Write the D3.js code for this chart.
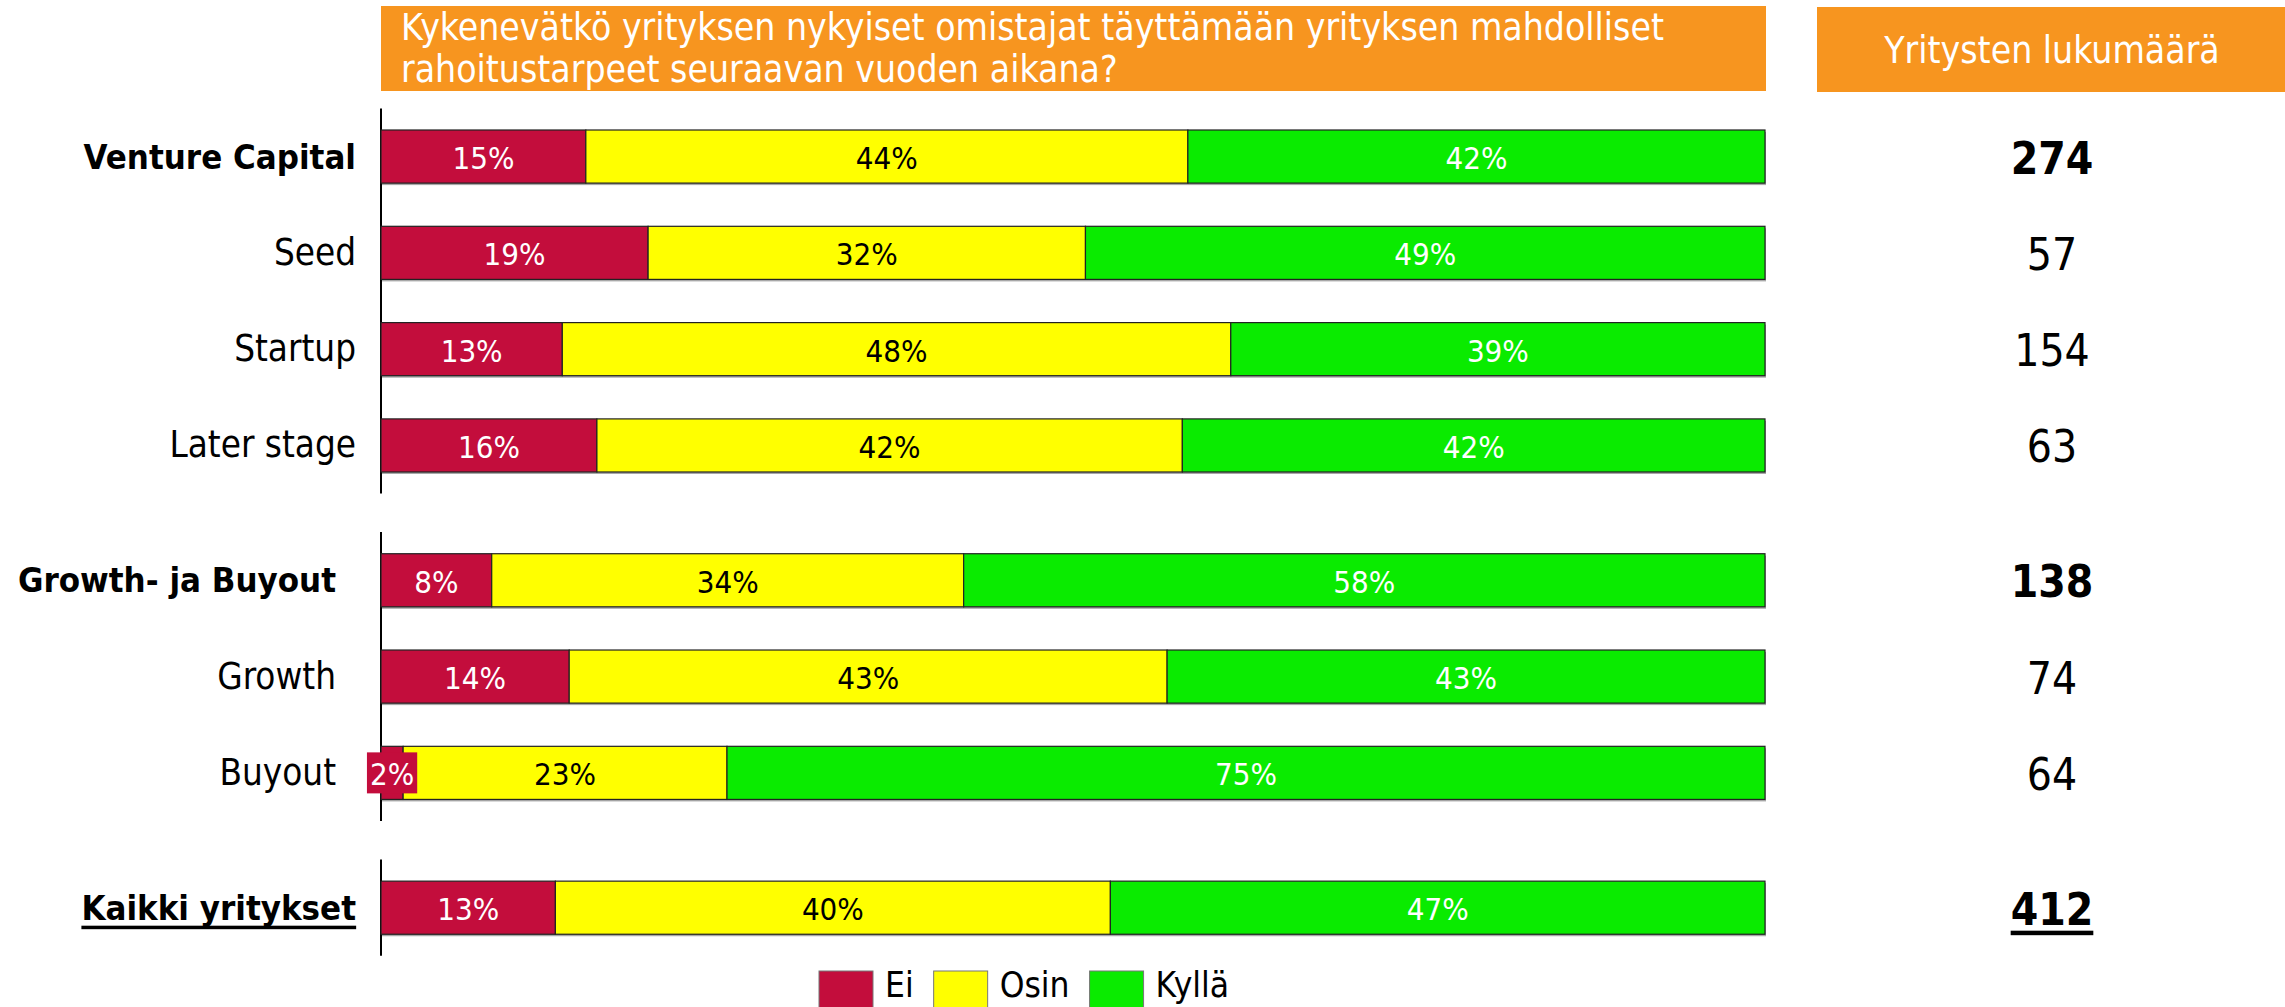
<!DOCTYPE html>
<html>
<head>
<meta charset="utf-8">
<script src="https://cdn.jsdelivr.net/npm/d3@7"></script>
<style>
  body { margin: 0; background: #fff; }
  svg { display: block; font-family: "DejaVu Sans Condensed", "DejaVu Sans", sans-serif; font-stretch: condensed; }
</style>
</head>
<body>
<svg width="2285" height="1007"></svg>
<script>
// --- data ---
const categories = ['Venture Capital', 'Seed', 'Startup', 'Later stage',
                    'Growth- ja Buyout', 'Growth', 'Buyout', 'Kaikki yritykset'];
const groupOf = [0, 0, 0, 0, 1, 1, 1, 2];
const isTotal = [true, false, false, false, true, false, false, true];
const ei    = [14.8, 19.3, 13.1, 15.6,  8.0, 13.6,  1.6, 12.6];
const osin  = [43.5, 31.6, 48.3, 42.3, 34.1, 43.2, 23.4, 40.1];
const kylla = [41.7, 49.1, 38.6, 42.1, 57.9, 43.2, 75.0, 47.3];
const counts = [274, 57, 154, 63, 138, 74, 64, 412];
const seriesNames = ['Ei', 'Osin', 'Kyllä'];
const seriesColors = ['#C30D3C', '#FFFF00', '#0AEB00'];
const labelColors = ['#fff', '#000', '#fff'];
const titleLines = ['Kykenevätkö yrityksen nykyiset omistajat täyttämään yrityksen mahdolliset',
                    'rahoitustarpeet seuraavan vuoden aikana?'];
const countHeader = 'Yritysten lukumäärä';

const svg = d3.select('svg');
const orange = '#F7951F';

// rows for the stack
const table = categories.map((c, i) => ({
  name: c, Ei: ei[i], Osin: osin[i], 'Kyllä': kylla[i],
  pos: i + groupOf[i] * 0.4, i: i
}));
const stacked = d3.stack().keys(seriesNames)(table);

const x = d3.scaleLinear().domain([0, 100]).range([381, 1765]);
const step = 96.3;
const y = d3.scaleLinear().domain([0, 1]).range([108.4, 108.4 + step]);
const barPad = 21.6;
const barH = step - 2 * barPad;
const fmt = v => Math.round(v) + '%';

// header boxes
svg.append('rect').attr('x', 381).attr('y', 6).attr('width', 1385).attr('height', 85).attr('fill', orange);
svg.append('rect').attr('x', 1817).attr('y', 7).attr('width', 468).attr('height', 85).attr('fill', orange);

svg.append('g').selectAll('text').data(titleLines).join('text')
  .attr('x', 401).attr('y', (d, i) => 40 + i * 42)
  .attr('fill', '#fff').attr('font-size', 37).text(d => d);

svg.append('text').attr('x', 2052).attr('y', 63).attr('text-anchor', 'middle')
  .attr('fill', '#fff').attr('font-size', 37).text(countHeader);

// axis line for each group
const groups = d3.groups(table, d => groupOf[d.i]);
svg.append('g').selectAll('line').data(groups).join('line')
  .attr('x1', x(0)).attr('x2', x(0))
  .attr('y1', d => y(d[1][0].pos))
  .attr('y2', d => y(d[1][d[1].length - 1].pos + 1))
  .attr('stroke', '#000').attr('stroke-width', 2);

// bar shadows
svg.append('g').selectAll('rect').data(table).join('rect')
  .attr('x', x(0) + 1).attr('y', d => y(d.pos) + barPad + 2)
  .attr('width', x(100) - x(0)).attr('height', barH)
  .attr('fill', '#a8a8a8');

// bar segments
const layer = svg.append('g').selectAll('g').data(stacked).join('g')
  .attr('fill', (d, k) => seriesColors[k]);

layer.selectAll('rect').data(d => d).join('rect')
  .attr('x', d => x(d[0]))
  .attr('y', d => y(d.data.pos) + barPad)
  .attr('width', d => x(d[1]) - x(d[0]))
  .attr('height', barH)
  .attr('stroke', '#222').attr('stroke-width', 1.2);

// segment labels
const lblSize = 31;
stacked.forEach((s, k) => {
  const g = svg.append('g');
  s.forEach(d => {
    const cx = (x(d[0]) + x(d[1])) / 2;
    const cy = y(d.data.pos) + barPad + barH / 2;
    const t = g.append('text').attr('x', cx).attr('y', cy + lblSize * 0.4)
      .attr('text-anchor', 'middle').attr('font-size', lblSize)
      .attr('fill', labelColors[k]).text(fmt(d[1] - d[0]));
    const w = t.node().getComputedTextLength();
    if (w + 4 > x(d[1]) - x(d[0])) {
      g.insert('rect', () => t.node())
        .attr('x', cx - w / 2 - 3).attr('y', cy - 20.5)
        .attr('width', w + 6).attr('height', 41)
        .attr('fill', seriesColors[k]);
    }
  });
});

// row labels
const labelRight = [356, 336, 356];
const rowLabels = svg.append('g').selectAll('text').data(table).join('text')
  .attr('x', d => labelRight[groupOf[d.i]])
  .attr('y', d => y(d.pos) + step / 2 + 12)
  .attr('text-anchor', 'end')
  .attr('font-size', d => isTotal[d.i] ? 34.5 : 36.5)
  .attr('font-weight', d => isTotal[d.i] ? 'bold' : 'normal')
  .text(d => d.name);

// counts
const countText = svg.append('g').selectAll('text').data(table).join('text')
  .attr('x', 2052)
  .attr('y', d => y(d.pos) + step / 2 + 17)
  .attr('text-anchor', 'middle').attr('font-size', 44)
  .attr('font-weight', d => isTotal[d.i] ? 'bold' : 'normal')
  .text(d => counts[d.i]);

// underline the overall row
const last = table.length - 1;
[rowLabels, countText].forEach((sel, j) => {
  const node = sel.nodes()[last];
  const bb = node.getBBox();
  svg.append('rect')
    .attr('x', bb.x).attr('width', bb.width)
    .attr('y', +node.getAttribute('y') + 6).attr('height', j ? 4.5 : 3.5)
    .attr('fill', '#000');
});

// legend
const legend = svg.append('g');
let lx = 819;
seriesNames.forEach((name, k) => {
  legend.append('rect').attr('x', lx).attr('y', 971).attr('width', 54).attr('height', 54)
    .attr('fill', seriesColors[k]).attr('stroke', '#777').attr('stroke-width', 1);
  const t = legend.append('text').attr('x', lx + 66).attr('y', 997)
    .attr('font-size', 35).attr('fill', '#000').text(name);
  lx += 66 + t.node().getComputedTextLength() + 20;
});
</script>
</body>
</html>
